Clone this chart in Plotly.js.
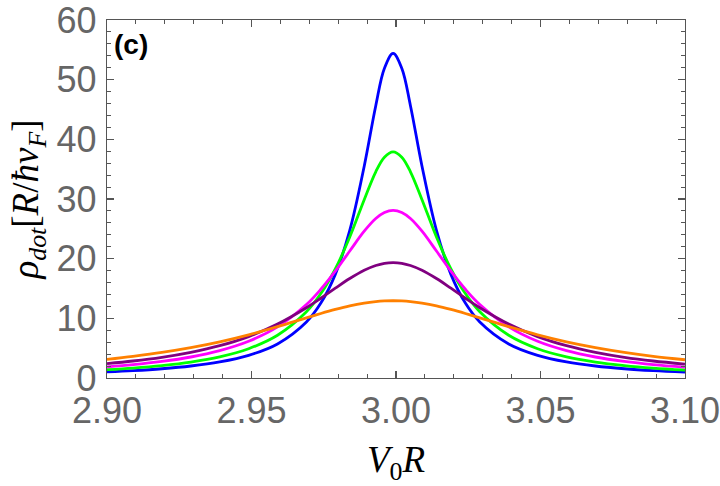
<!DOCTYPE html>
<html>
<head>
<meta charset="utf-8">
<script src="https://cdn.plot.ly/plotly-3.0.1.min.js"></script>
<style>
  html, body { margin: 0; padding: 0; background: #fff; }
  #chart { width: 720px; height: 486px; }
</style>
</head>
<body>
<div id="chart"></div>
<script>
// V0 R values
var vR = [2.900, 2.909, 2.919, 2.929, 2.939, 2.949, 2.959, 2.969, 2.974, 2.979,
          2.984, 2.989, 2.993, 2.996, 2.999, 3.002, 3.005, 3.009, 3.014, 3.019,
          3.024, 3.029, 3.039, 3.049, 3.059, 3.069, 3.079, 3.089, 3.100];

// rho_dot curves
var rhoBlue = [1.02, 1.23, 1.55, 2.01, 2.70, 3.80, 5.71, 9.39, 12.56, 17.37,
               24.74, 35.49, 45.64, 51.91, 54.40, 51.91, 45.64, 35.49, 24.74, 17.37,
               12.56, 9.39, 5.71, 3.80, 2.70, 2.01, 1.55, 1.23, 0.98];
var rhoGreen = [1.39, 1.67, 2.09, 2.68, 3.55, 4.91, 7.16, 11.09, 14.15, 18.27,
                23.63, 29.88, 34.56, 37.01, 37.90, 37.01, 34.56, 29.88, 23.63, 18.27,
                14.15, 11.09, 7.16, 4.91, 3.55, 2.68, 2.09, 1.67, 1.34];
var rhoMagenta = [1.88, 2.24, 2.78, 3.52, 4.59, 6.16, 8.57, 12.31, 14.87, 17.90,
                  21.28, 24.60, 26.73, 27.74, 28.10, 27.74, 26.73, 24.60, 21.28, 17.90,
                  14.87, 12.31, 8.57, 6.16, 4.59, 3.52, 2.78, 2.24, 1.81];
var rhoPurple = [2.42, 2.85, 3.47, 4.30, 5.41, 6.94, 9.03, 11.77, 13.37, 15.05,
                 16.67, 18.06, 18.86, 19.23, 19.35, 19.23, 18.86, 18.06, 16.67, 15.05,
                 13.37, 11.77, 9.03, 6.94, 5.41, 4.30, 3.47, 2.85, 2.33];
var rhoOrange = [3.12, 3.63, 4.28, 5.08, 6.05, 7.23, 8.60, 10.08, 10.81, 11.49,
                 12.09, 12.55, 12.80, 12.91, 12.95, 12.91, 12.80, 12.55, 12.09, 11.49,
                 10.81, 10.08, 8.60, 7.23, 6.05, 5.08, 4.28, 3.63, 3.06];

var series = [rhoBlue, rhoGreen, rhoMagenta, rhoPurple, rhoOrange];
var colors = ['#0000ff', '#00ff00', '#ff00ff', '#800080', '#ff8000'];

var data = [];
series.forEach(function (ys, i) {
    data.push({
        x: vR,
        y: ys,
        type: 'scatter',
        mode: 'lines',
        line: { color: colors[i], width: 2.8, shape: 'spline', smoothing: 1 },
        hoverinfo: 'skip'
    });
});

var axisColor = '#555555';
var tickFont = { family: 'Liberation Sans, Arial, sans-serif', size: 36, color: '#666666' };
var titleFont = { family: 'Liberation Serif, Times New Roman, serif', size: 37, color: '#000000' };

var layout = {
    width: 720,
    height: 486,
    margin: { l: 107, r: 35, t: 20, b: 108 },
    paper_bgcolor: '#ffffff',
    plot_bgcolor: '#ffffff',
    showlegend: false,
    xaxis: {
        range: [2.9, 3.1],
        tickvals: [2.90, 2.95, 3.00, 3.05, 3.10],
        ticktext: ['2.90', '2.95', '3.00', '3.05', '3.10'],
        ticks: 'inside',
        ticklen: 7,
        tickwidth: 1.3,
        tickcolor: axisColor,
        minor: { ticks: 'inside', ticklen: 4, dtick: 0.01, tick0: 2.9, tickcolor: axisColor, tickwidth: 1 },
        showline: true,
        linecolor: axisColor,
        linewidth: 1.3,
        mirror: 'ticks',
        showgrid: false,
        zeroline: false,
        tickfont: tickFont,
        ticklabeloverflow: 'allow',
        ticklabelstandoff: 0,
        title: { text: '<i>V</i><sub>0</sub><i>R</i>', font: titleFont, standoff: 19 }
    },
    yaxis: {
        range: [0, 60],
        tickvals: [0, 10, 20, 30, 40, 50, 60],
        ticks: 'inside',
        ticklen: 7,
        tickwidth: 1.3,
        tickcolor: axisColor,
        minor: { ticks: 'inside', ticklen: 4, dtick: 2, tick0: 0, tickcolor: axisColor, tickwidth: 1 },
        showline: true,
        linecolor: axisColor,
        linewidth: 1.3,
        mirror: 'ticks',
        showgrid: false,
        zeroline: false,
        tickfont: tickFont,
        ticklabeloverflow: 'allow',
        ticklabelstandoff: 2,
        title: { text: '<i>ρ</i><sub><i>dot</i></sub>[<i>R</i>/<i>ħv</i><sub><i>F</i></sub>]', font: titleFont, standoff: 6 }
    },
    annotations: [{
        xref: 'paper', yref: 'paper',
        x: 0.008, y: 0.98,
        xanchor: 'left', yanchor: 'top',
        text: '<b>(c)</b>',
        showarrow: false,
        font: { family: 'Liberation Sans, Arial, sans-serif', size: 28, color: '#000000' }
    }]
};

Plotly.newPlot('chart', data, layout, { displayModeBar: false, staticPlot: true });
</script>
</body>
</html>
